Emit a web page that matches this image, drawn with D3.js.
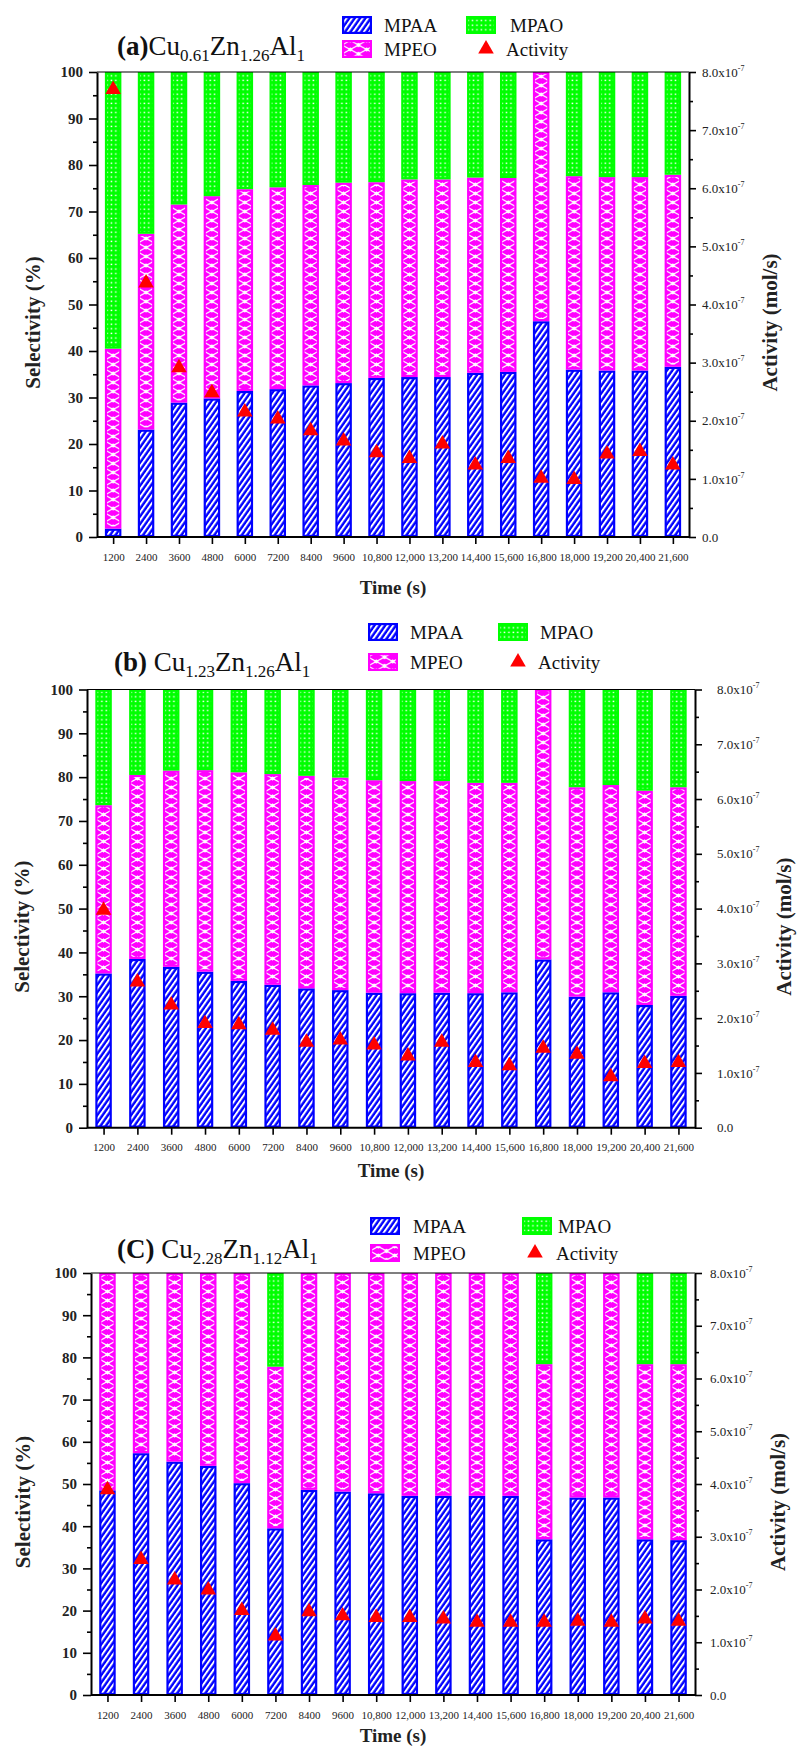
<!DOCTYPE html>
<html><head><meta charset="utf-8">
<script src="https://cdn.jsdelivr.net/npm/d3@7"></script>
<style>body{margin:0;background:#fff}svg{display:block}</style>
</head><body>
<svg id="chart" width="797" height="1760"></svg>
<script>
// ---------- DATA ----------
const categories = ["1200","2400","3600","4800","6000","7200","8400","9600","10,800","12,000","13,200","14,400","15,600","16,800","18,000","19,200","20,400","21,600"];
const seriesKeys = ["MPAA","MPEO","MPAO"];
const selTicks = [0,10,20,30,40,50,60,70,80,90,100];
const selMinorTicks = [5,15,25,35,45,55,65,75,85,95];
const actTicks = [0,1,2,3,4,5,6,7,8];          // ×10^-7 mol/s
const actMinorTicks = [0.5,1.5,2.5,3.5,4.5,5.5,6.5,7.5];

// Panel (a) Cu0.61Zn1.26Al1
const mpaaA = [1.8,23.1,28.9,29.8,31.4,31.8,32.6,33.1,34.2,34.4,34.4,35.3,35.5,46.4,36.0,35.8,35.8,36.6];
const mpeoA = [38.7,42.1,42.6,43.5,43.4,43.4,43.1,43.1,42.1,42.5,42.5,42.0,41.7,53.6,41.6,41.6,41.6,41.3];
const mpaoA = [59.5,34.8,28.5,26.7,25.2,24.8,24.3,23.8,23.7,23.1,23.1,22.7,22.8,0,22.4,22.6,22.6,22.1];
const activityA = [7.7,4.37,2.91,2.48,2.15,2.03,1.83,1.65,1.45,1.35,1.60,1.24,1.35,1.01,0.99,1.43,1.47,1.24];

// Panel (b) Cu1.23Zn1.26Al1
const mpaaB = [35.2,38.5,36.7,35.6,33.5,32.6,31.8,31.4,30.8,30.7,30.8,30.7,30.9,38.4,29.9,30.9,28.0,30.1];
const mpeoB = [38.4,42.0,44.8,46.0,47.6,48.1,48.5,48.5,48.5,48.4,48.3,48.0,47.8,61.6,47.8,47.3,48.9,47.6];
const mpaoB = [26.4,19.5,18.5,18.4,18.9,19.3,19.7,20.1,20.7,20.9,20.9,21.3,21.3,0,22.3,21.8,23.1,22.3];
const activityB = [3.97,2.66,2.24,1.90,1.88,1.78,1.56,1.60,1.51,1.31,1.56,1.19,1.13,1.45,1.34,0.93,1.17,1.19];

// Panel (C) Cu2.28Zn1.12Al1
const mpaaC = [48.5,57.3,55.3,54.3,50.2,39.5,48.6,48.2,47.8,47.2,47.2,47.2,47.2,36.9,46.8,46.8,36.9,36.7];
const mpeoC = [51.5,42.7,44.7,45.7,49.8,38.3,51.4,51.8,52.2,52.8,52.8,52.8,52.8,41.5,53.2,53.2,41.5,41.7];
const mpaoC = [0,0,0,0,0,22.2,0,0,0,0,0,0,0,21.6,0,0,21.6,21.6];
const activityC = [3.89,2.57,2.18,1.99,1.60,1.12,1.58,1.50,1.47,1.47,1.44,1.38,1.38,1.38,1.40,1.38,1.44,1.40];

// ---------- LAYOUT ----------
const FONT = "'Liberation Serif','Times New Roman',serif";
const BW = 16.5;
const colors = {MPAA:"#0000ff", MPEO:"#ff00ff", MPAO:"#00ff00"};
const panels = [
  {tag:"(a)", comp:[["Cu","0.61"],["Zn","1.26"],["Al","1"]], mpaa:mpaaA, mpeo:mpeoA, mpao:mpaoA, act:activityA,
   left:97, right:689, top:72, bottom:537, titleX:117, titleY:55,
   r1:25, r2:49, boxX:342, txtX:384, box2X:466, txt2X:510, triX:486, actX:506,
   ylabX:35, yrlabX:772, rOff:13, timeDy:57},
  {tag:"(b) ", comp:[["Cu","1.23"],["Zn","1.26"],["Al","1"]], mpaa:mpaaB, mpeo:mpeoB, mpao:mpaoB, act:activityB,
   left:87, right:695, top:689.5, bottom:1127.7, titleX:114, titleY:671,
   r1:632, r2:662, boxX:368, txtX:410, box2X:498, txt2X:540, triX:518, actX:538,
   ylabX:24, yrlabX:786, rOff:22, timeDy:49},
  {tag:"(C) ", comp:[["Cu","2.28"],["Zn","1.12"],["Al","1"]], mpaa:mpaaC, mpeo:mpeoC, mpao:mpaoC, act:activityC,
   left:91, right:695, top:1273, bottom:1695, titleX:117, titleY:1258,
   r1:1226, r2:1253, boxX:370, txtX:413, box2X:522, txt2X:558, triX:535, actX:556,
   ylabX:25, yrlabX:780, rOff:15, timeDy:47}
];

const svg = d3.select("#chart");
const defs = svg.append("defs");

// MPAA: blue with white "/" stripes
const pA = defs.append("pattern").attr("id","pMPAA").attr("patternUnits","userSpaceOnUse")
  .attr("width",4.4).attr("height",20).attr("patternTransform","rotate(35)");
pA.append("rect").attr("width",4.4).attr("height",20).attr("fill",colors.MPAA);
pA.append("rect").attr("x",0).attr("width",2.0).attr("height",20).attr("fill","#fff");

// MPEO: magenta with white diamond lattice
const th = 9;
const pE = defs.append("pattern").attr("id","pMPEO").attr("patternUnits","userSpaceOnUse")
  .attr("width",BW).attr("height",th);
pE.append("rect").attr("width",BW).attr("height",th).attr("fill",colors.MPEO);
pE.append("path").attr("d",`M0,0L${BW},${th}M${BW},0L0,${th}`).attr("stroke","#fff").attr("stroke-width",1.1);
const dia = (cx,cy,r)=>`M${cx},${cy-r}L${cx+r},${cy}L${cx},${cy+r}L${cx-r},${cy}Z`;
pE.append("path").attr("d",[dia(BW/2,th/2,2.3),dia(0,0,2.6),dia(BW,0,2.6),dia(0,th,2.6),dia(BW,th,2.6)].join(""))
  .attr("fill","#fff");

// MPAO: green with small white dots
const pO = defs.append("pattern").attr("id","pMPAO").attr("patternUnits","userSpaceOnUse")
  .attr("width",4.4).attr("height",4.6);
pO.append("rect").attr("width",4.4).attr("height",4.6).attr("fill",colors.MPAO);
pO.append("rect").attr("x",1.4).attr("y",1.5).attr("width",1.5).attr("height",1.4).attr("fill","#fff");

function drawBlock(g, x0, y0, w, h, key){
  const grp = g.append("g").attr("transform",`translate(${x0},0)`);
  grp.append("rect").attr("x",1.1).attr("y",y0+1.1).attr("width",Math.max(0,w-2.2)).attr("height",Math.max(0,h-2.2))
    .attr("fill",`url(#p${key})`).attr("stroke",colors[key]).attr("stroke-width",2.2);
}

const tri = d3.symbol().type(d3.symbolTriangle).size(105);

panels.forEach(P => {
  const g = svg.append("g");
  const x = d3.scalePoint().domain(categories).range([P.left, P.right]).padding(0.49);
  const y = d3.scaleLinear().domain([0,100]).range([P.bottom, P.top]);
  const yAct = d3.scaleLinear().domain([0,8]).range([P.bottom, P.top]);

  const rows = categories.map((c,i)=>({cat:c, MPAA:P.mpaa[i], MPEO:P.mpeo[i], MPAO:P.mpao[i]}));
  const stacked = d3.stack().keys(seriesKeys)(rows);

  // bars
  stacked.forEach(s => {
    s.forEach(d => {
      const h = y(d[0]) - y(d[1]);
      if (h <= 0.5) return;
      drawBlock(g, x(d.data.cat) - BW/2, y(d[1]), BW, h, s.key);
    });
  });

  // top border
  g.append("line").attr("x1",P.left).attr("x2",P.right).attr("y1",P.top).attr("y2",P.top)
    .attr("stroke","#000").attr("stroke-width",1.2);

  // left axis
  const la = g.append("g").attr("transform",`translate(${P.left},0)`)
    .call(d3.axisLeft(y).tickValues(selTicks).tickSize(8).tickSizeOuter(0).tickPadding(6).tickFormat(d3.format("d")));
  g.append("g").attr("transform",`translate(${P.left},0)`)
    .call(d3.axisLeft(y).tickValues(selMinorTicks).tickSize(4).tickSizeOuter(0).tickFormat(""))
    .call(a => a.select(".domain").remove())
    .call(a => a.selectAll("text").remove());
  la.selectAll("text").attr("font-family",FONT).attr("font-size",15).attr("font-weight","bold").attr("fill","#222");

  // right axis
  const ra = g.append("g").attr("transform",`translate(${P.right},0)`)
    .call(d3.axisRight(yAct).tickValues(actTicks).tickSize(7).tickSizeOuter(0).tickPadding(P.rOff-7)
      .tickFormat(d => d === 0 ? "0.0" : d3.format(".1f")(d) + "x10"));
  g.append("g").attr("transform",`translate(${P.right},0)`)
    .call(d3.axisRight(yAct).tickValues(actMinorTicks).tickSize(4).tickSizeOuter(0).tickFormat(""))
    .call(a => a.select(".domain").remove())
    .call(a => a.selectAll("text").remove());
  ra.selectAll(".tick text").attr("font-family",FONT).attr("font-size",13).attr("fill","#222")
    .each(function(d){
      if (d !== 0) d3.select(this).append("tspan").attr("font-size",8).attr("dy",-6).text("-7");
    });

  // bottom axis
  const ba = g.append("g").attr("transform",`translate(0,${P.bottom})`)
    .call(d3.axisBottom(x).tickSize(7).tickSizeOuter(0).tickPadding(9));
  ba.select(".domain").attr("d",`M${P.left},0H${P.right}`);
  ba.selectAll("text").attr("font-family",FONT).attr("font-size",11).attr("fill","#222");

  g.selectAll(".domain").attr("stroke-width",2);
  g.selectAll(".tick line").attr("stroke-width",1.6);

  // activity markers
  g.append("g").selectAll("path").data(P.act).join("path")
    .attr("d",tri).attr("fill","#ff0000")
    .attr("transform",(d,i)=>`translate(${x(categories[i])},${yAct(d)})`);

  // axis titles
  const mid = (P.top + P.bottom)/2 + 18;
  g.append("text").attr("transform",`translate(${P.ylabX},${mid}) rotate(-90)`)
    .attr("text-anchor","middle").attr("dominant-baseline","middle")
    .attr("font-family",FONT).attr("font-size",21).attr("font-weight","bold").attr("fill","#222")
    .text("Selectivity (%)");
  g.append("text").attr("transform",`translate(${P.yrlabX},${mid}) rotate(-90)`)
    .attr("text-anchor","middle").attr("dominant-baseline","middle")
    .attr("font-family",FONT).attr("font-size",21).attr("font-weight","bold").attr("fill","#222")
    .text("Activity (mol/s)");
  g.append("text").attr("x",(P.left+P.right)/2).attr("y",P.bottom + P.timeDy)
    .attr("text-anchor","middle").attr("font-family",FONT).attr("font-size",19).attr("font-weight","bold").attr("fill","#222")
    .text("Time (s)");

  // panel title
  const tt = g.append("text").attr("x",P.titleX).attr("y",P.titleY)
    .attr("font-family",FONT).attr("font-size",27).attr("fill","#111");
  tt.append("tspan").attr("font-weight","bold").text(P.tag);
  P.comp.forEach(([el,sub],i)=>{
    tt.append("tspan").attr("dy", i === 0 ? 0 : -6).text(el);
    tt.append("tspan").attr("font-size",17).attr("dy",6).text(sub);
  });

  // legend
  const bw = 30, bh = 18;
  const leg = g.append("g");
  const legItem = (bx, cy, key, tx) => {
    drawBlock(leg, bx, cy - bh/2, bw, bh, key);
    leg.append("text").attr("x",tx).attr("y",cy).attr("dominant-baseline","central")
      .attr("font-family",FONT).attr("font-size",19).attr("fill","#111").text(key);
  };
  legItem(P.boxX, P.r1, "MPAA", P.txtX);
  legItem(P.box2X, P.r1, "MPAO", P.txt2X);
  legItem(P.boxX, P.r2, "MPEO", P.txtX);
  leg.append("path").attr("d",tri).attr("fill","#ff0000").attr("transform",`translate(${P.triX},${P.r2})`);
  leg.append("text").attr("x",P.actX).attr("y",P.r2).attr("dominant-baseline","central")
    .attr("font-family",FONT).attr("font-size",19).attr("fill","#111").text("Activity");
});
</script>
</body></html>
